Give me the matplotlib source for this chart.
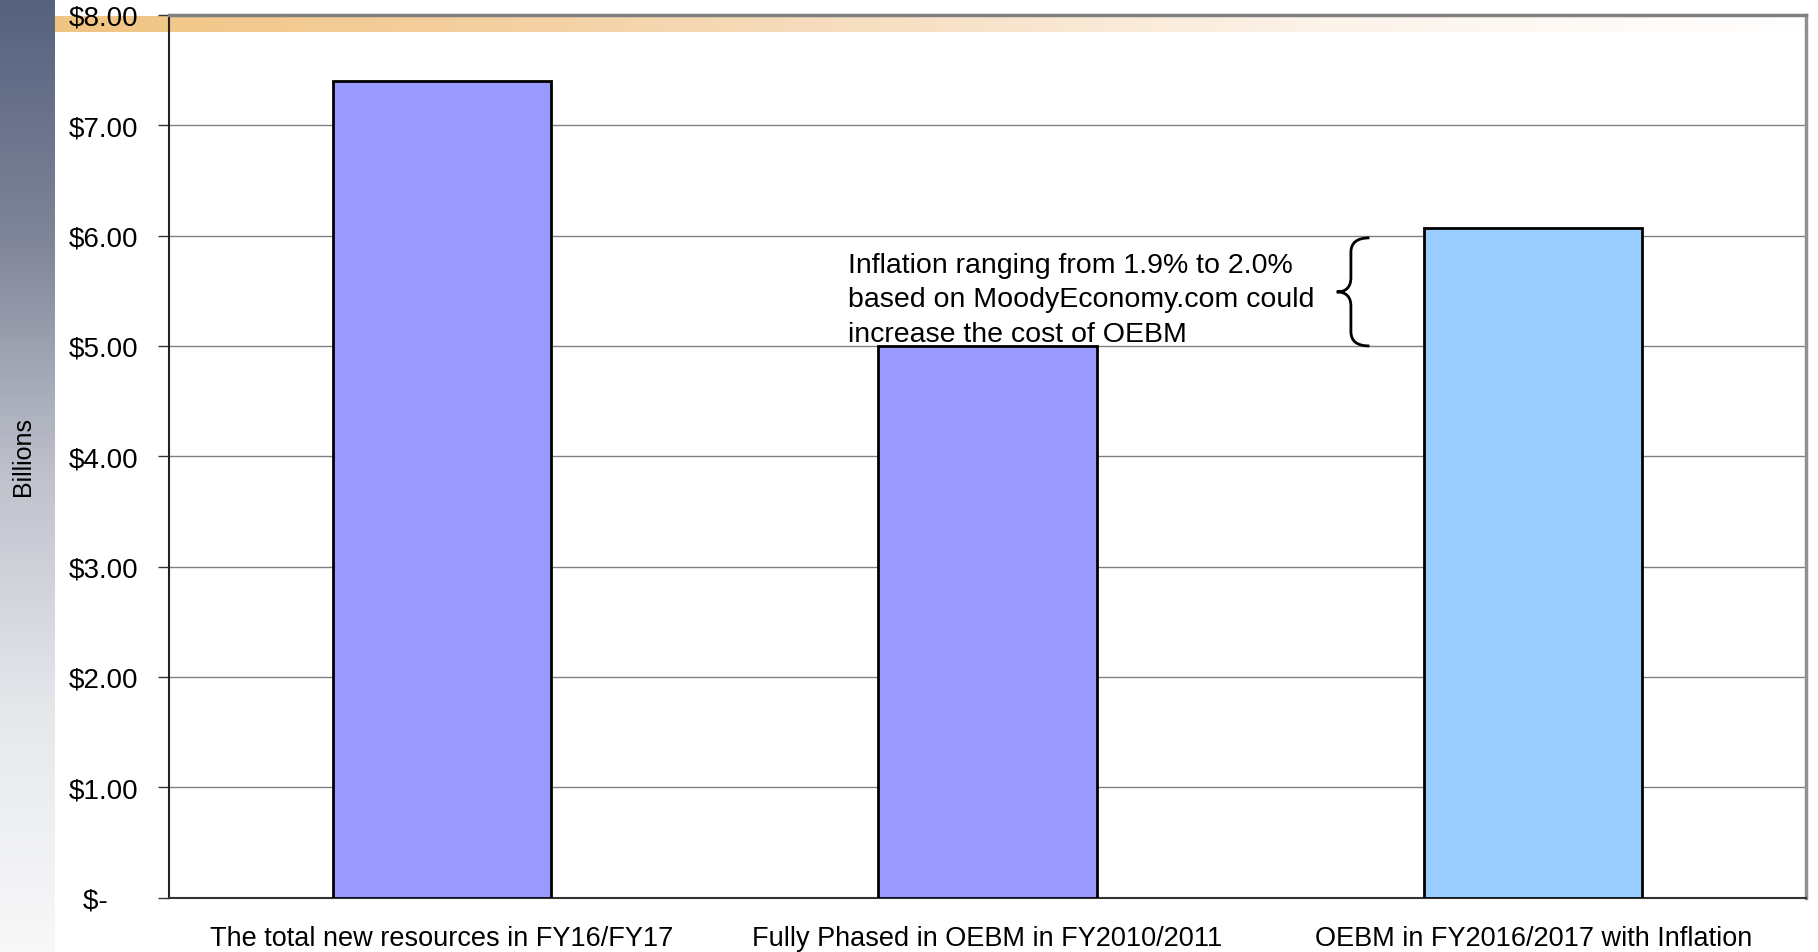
import numpy as np
import matplotlib.pyplot as plt
from matplotlib.path import Path
from matplotlib.patches import PathPatch
from matplotlib.colors import LinearSegmentedColormap

categories = [
    "The total new resources in FY16/FY17",
    "Fully Phased in OEBM in FY2010/2011",
    "OEBM in FY2016/2017 with Inflation",
]
values = [7.40, 5.00, 6.07]
bar_colors = ["#9999ff", "#9999ff", "#99ccff"]
y_ticks = [0, 1, 2, 3, 4, 5, 6, 7, 8]
y_tick_labels = ["$-    ", "$1.00", "$2.00", "$3.00", "$4.00",
                 "$5.00", "$6.00", "$7.00", "$8.00"]
note = ("Inflation ranging from 1.9% to 2.0%\n"
        "based on MoodyEconomy.com could\n"
        "increase the cost of OEBM")
brace_low, brace_high = 5.00, 5.98

plt.rcParams["font.family"] = ["Liberation Sans", "DejaVu Sans"]

W, H = 1818, 953
fig = plt.figure(figsize=(W / 100, H / 100), dpi=100)

# background: slate strip on the left and a fading orange band on top
bg = fig.add_axes([0, 0, 1, 1], zorder=0)
bg.set_xlim(0, W)
bg.set_ylim(H, 0)
bg.axis("off")
strip_cmap = LinearSegmentedColormap.from_list(
    "strip", [(0, "#56617f"), (0.25, "#7f8598"), (0.5, "#bfc2cc"),
              (0.75, "#e6e8ec"), (1, "#f8f8f9")])
bg.imshow(np.linspace(0, 1, 256)[:, None], cmap=strip_cmap,
          extent=(0, 55, H, 0), aspect="auto")
band_cmap = LinearSegmentedColormap.from_list(
    "band", [(0, "#f0c482"), (0.2, "#f3cd9a"), (0.43, "#f6dcbc"),
             (0.72, "#fcf3ea"), (1, "#ffffff")])
bg.imshow(np.linspace(0, 1, 256)[None, :], cmap=band_cmap,
          extent=(55, W, 33, 17), aspect="auto")

ax = fig.add_axes([169 / W, 1 - 898.6 / H, (1806 - 169) / W, (898.6 - 16) / H],
                  zorder=1)
ax.patch.set_alpha(0)

x = np.arange(len(categories))
ax.bar(x, values, width=0.4, color=bar_colors, edgecolor="black",
       linewidth=2, zorder=3)

ax.set_xlim(-0.5, len(categories) - 0.5)
ax.set_ylim(0, 8)
ax.set_yticks(y_ticks)
ax.set_yticklabels(y_tick_labels, fontsize=20)
ax.set_xticks(x)
ax.set_xticklabels(categories, fontsize=19.5)
ax.tick_params(axis="y", length=8, width=1, color="#333333", pad=14)
ax.tick_params(axis="x", length=0, pad=20)

ax.yaxis.grid(True, color="#808080", linewidth=1)
ax.set_axisbelow(True)

ax.spines["left"].set_color("#222222")
ax.spines["left"].set_linewidth(1.5)
ax.spines["bottom"].set_color("#333333")
ax.spines["bottom"].set_linewidth(1.5)
ax.spines["top"].set_color("#808080")
ax.spines["top"].set_linewidth(2.5)
ax.spines["right"].set_color("#909090")
ax.spines["right"].set_linewidth(2.5)

fig.text(23 / W, 1 - 457 / H, "Billions", rotation=90, fontsize=18,
         ha="center", va="center")

ax.text(0.744, 5.85, note, fontsize=20.5, va="top", ha="left",
        linespacing=1.41)

# curly brace marking the inflation increase
x_r, x_m, x_l = 1.70, 1.666, 1.640
r = 0.13
y_mid = (brace_low + brace_high) / 2
verts = [
    (x_r, brace_high),
    (x_m, brace_high), (x_m, brace_high - r),
    (x_m, y_mid + r),
    (x_m, y_mid), (x_l, y_mid),
    (x_m, y_mid), (x_m, y_mid - r),
    (x_m, brace_low + r),
    (x_m, brace_low), (x_r, brace_low),
]
codes = [Path.MOVETO,
         Path.CURVE3, Path.CURVE3,
         Path.LINETO,
         Path.CURVE3, Path.CURVE3,
         Path.CURVE3, Path.CURVE3,
         Path.LINETO,
         Path.CURVE3, Path.CURVE3]
ax.add_patch(PathPatch(Path(verts, codes), facecolor="none",
                       edgecolor="black", linewidth=2, zorder=4))

fig.savefig("out.png", dpi=100)
